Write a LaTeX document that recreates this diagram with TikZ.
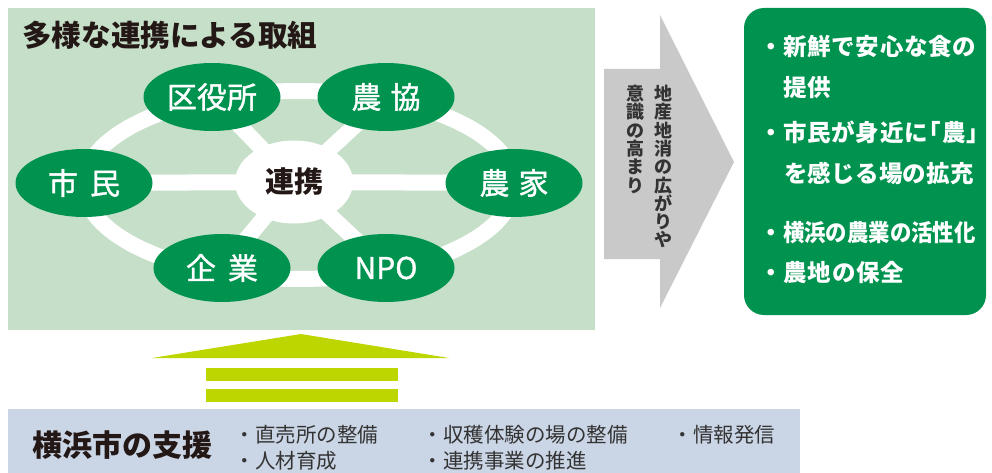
\documentclass[tikz,border=0pt]{standalone}
\usepackage{fontspec}
\usetikzlibrary{shapes.geometric,backgrounds}
\newfontfamily\jp{Noto Sans CJK JP}
\newfontfamily\jpm[FakeBold=1.2]{Noto Sans CJK JP}
\definecolor{panel}{HTML}{C6DFC9}
\definecolor{ngreen}{HTML}{00934F}
\definecolor{agray}{HTML}{C9C9C9}
\definecolor{ygreen}{HTML}{BED600}
\definecolor{bblue}{HTML}{CAD5E5}
\definecolor{ink}{HTML}{231815}
\definecolor{ink2}{HTML}{333333}
\tikzset{
  actor/.style={ellipse, fill=ngreen, minimum width=137pt, minimum height=68pt, inner sep=0pt, text=white, font=\jpm\fontsize{30}{30}\selectfont},
  hub/.style={ellipse, fill=white, minimum width=118pt, minimum height=83pt, inner sep=0pt, text=ink, font=\jp\bfseries\fontsize{29}{29}\selectfont},
  spoke/.style={white, line width=16pt},
  goodtext/.style={anchor=west, inner sep=0pt, text=white, font=\jp\bfseries\fontsize{23.5}{23.5}\selectfont},
  supptext/.style={anchor=west, inner sep=0pt, text=ink2, font=\jp\fontsize{20.5}{20.5}\selectfont},
  vtext/.style={anchor=north, inner sep=0pt, align=center, text=ink2, font=\jp\bfseries\fontsize{18}{18.3}\selectfont}
}
\newcommand{\ls}[1]{\addfontfeature{LetterSpace=#1}}
\begin{document}
\begin{tikzpicture}[x=1pt,y=-1pt]
\useasboundingbox (0,0) rectangle (992,473);
% title
\node[anchor=west, inner sep=0pt, text=ink, font=\jp\bfseries\fontsize{29.6}{30}\selectfont] (title) at (22,35) {多様な連携による取組};
% actors
\node[hub] (hub) at (294,182) {連携};
\node[actor] (kuyaku) at (212,97) {区役所};
\node[actor] (nokyo) at (386,97) {農\hspace{0.3em}協};
\node[actor] (shimin) at (84,183) {市\hspace{0.4em}民};
\node[actor] (noka) at (514,183) {農\hspace{0.3em}家};
\node[actor] (kigyo) at (222,268) {企\hspace{0.4em}業};
\node[actor] (npo) at (386,268) {NPO};
\begin{scope}[on background layer]
  \fill[panel] (8,8) rectangle (595,330);
  \draw[white, line width=16pt] (299,185) ellipse [x radius=215, y radius=94];
  \foreach \n in {kuyaku,nokyo,shimin,noka,kigyo,npo}
    \draw[spoke] (hub.center) -- (\n.center);
\end{scope}
% gray arrow
\fill[agray] (604,69) -- (660,69) -- (660,15) -- (734,162) -- (660,308) -- (660,259) -- (604,259) -- cycle;
\node[vtext] (v1) at (663,85) {地\\産\\地\\消\\の\\広\\が\\り\\や};
\node[vtext] (v2) at (635,85) {意\\識\\の\\高\\ま\\り};
% result box
\fill[ngreen, rounded corners=20pt] (744,8) rectangle (986,315);
\node[goodtext] (g1) at (783,47) {\llap{・}\ls{3}新鮮で安心な食の};
\node[goodtext] (g2) at (783,88) {\ls{3}提供};
\node[goodtext] (g3) at (783,132) {\llap{・}\ls{3}市民が身近に\kern-0.42em「農」};
\node[goodtext] (g4) at (784,173) {\ls{1}を感じる場の拡充};
\node[goodtext] (g5) at (783,233) {\llap{・}\scalebox{0.91}[1]{横浜の農業の活性化}};
\node[goodtext] (g6) at (783,273) {\llap{・}\ls{4}農地の保全};
% support arrow
\fill[ygreen] (152,358) -- (301,334) -- (449,358) -- cycle;
\fill[ygreen] (206,368) rectangle (398,381);
\fill[ygreen] (206,389) rectangle (398,402);
% support box
\fill[bblue] (8,409) rectangle (800,473);
\node[anchor=west, inner sep=0pt, text=ink, font=\jp\bfseries\fontsize{30}{30}\selectfont] (supp) at (32,445) {横浜市の支援};
\node[supptext] (s1) at (255,435) {\llap{・}直売所の整備};
\node[supptext] (s2) at (255,461) {\llap{・}人材育成};
\node[supptext] (s3) at (443,435) {\llap{・}収穫体験の場の整備};
\node[supptext] (s4) at (443,461) {\llap{・}連携事業の推進};
\node[supptext] (s5) at (693,435) {\llap{・}情報発信};
\end{tikzpicture}
\end{document}
